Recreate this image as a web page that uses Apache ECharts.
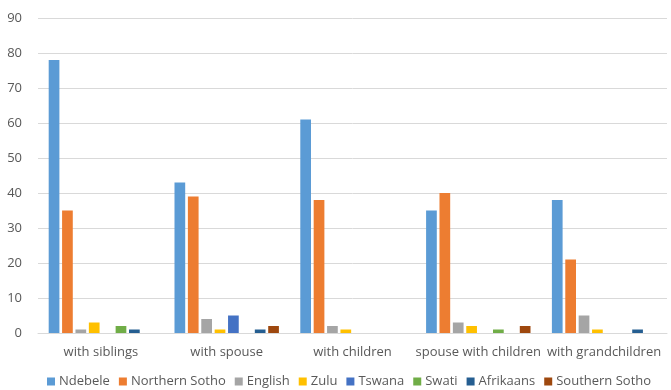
<!DOCTYPE html>
<html>
<head>
<meta charset="utf-8">
<script src="https://cdn.jsdelivr.net/npm/echarts@6/dist/echarts.min.js"></script>
<style>
  html, body { margin: 0; padding: 0; background: #fff; }
  #chart { width: 671px; height: 390px; }
</style>
</head>
<body>
<div id="chart"></div>
<script>
// Living arrangements by home language
const categories = ['with siblings', 'with spouse', 'with children', 'spouse with children', 'with grandchildren'];
const yTicks = { min: 0, max: 90, interval: 10 };

const ndebele       = [78, 43, 61, 35, 38];
const northernSotho = [35, 39, 38, 40, 21];
const english       = [1, 4, 2, 3, 5];
const zulu          = [3, 1, 1, 2, 1];
const tswana        = [0, 5, 0, 0, 0];
const swati         = [2, 0, 0, 1, 0];
const afrikaans     = [1, 1, 0, 0, 1];
const southernSotho = [0, 2, 0, 2, 0];

const seriesDefs = [
  ['Ndebele', ndebele, '#5B9BD5'],
  ['Northern Sotho', northernSotho, '#ED7D31'],
  ['English', english, '#A5A5A5'],
  ['Zulu', zulu, '#FFC000'],
  ['Tswana', tswana, '#4472C4'],
  ['Swati', swati, '#70AD47'],
  ['Afrikaans', afrikaans, '#255E91'],
  ['Southern Sotho', southernSotho, '#9E480E']
];

const chart = echarts.init(document.getElementById('chart'), null, { renderer: 'canvas' });
const font = '"Open Sans", "Noto Sans", sans-serif';

chart.setOption({
  animation: false,
  textStyle: { fontFamily: font },
  grid: { left: 38, right: 4, top: 18, bottom: 57, containLabel: false },
  legend: {
    bottom: -3,
    left: 42,
    itemWidth: 8,
    itemHeight: 8,
    itemGap: 9,
    icon: 'rect',
    textStyle: { color: '#595959', fontSize: 13, fontFamily: font, padding: [0, 0, 0, -1] },
    data: seriesDefs.map(d => d[0])
  },
  xAxis: {
    type: 'category',
    data: categories,
    axisLine: { lineStyle: { color: '#D9D9D9', width: 1 } },
    axisTick: { show: false },
    axisLabel: { color: '#595959', fontSize: 13, margin: 13, interval: 0, fontFamily: font }
  },
  yAxis: {
    type: 'value',
    min: yTicks.min,
    max: yTicks.max,
    interval: yTicks.interval,
    axisLine: { show: false },
    axisTick: { show: false },
    splitLine: { lineStyle: { color: '#D9D9D9', width: 1 } },
    axisLabel: { color: '#595959', fontSize: 13, margin: 16, fontFamily: font }
  },
  series: seriesDefs.map(([name, data, color]) => ({
    name,
    type: 'bar',
    data,
    barGap: '25%',
    barCategoryGap: '17%',
    itemStyle: { color }
  }))
});
</script>
</body>
</html>
